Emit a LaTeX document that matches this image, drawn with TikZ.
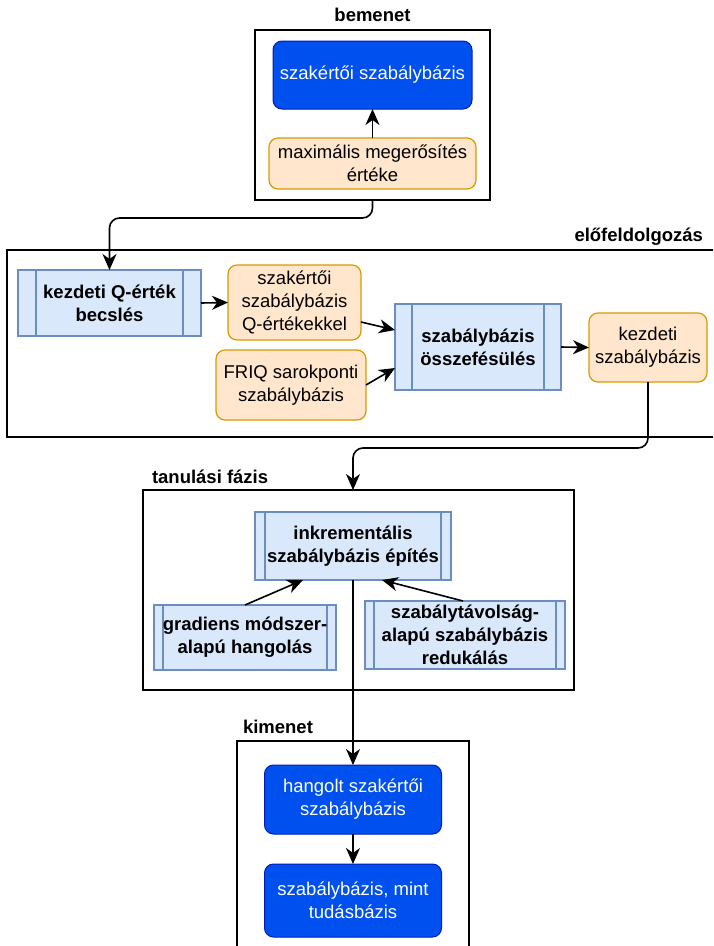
\documentclass[tikz,border=0pt]{standalone}
\usepackage{fontspec}
\setmainfont{Liberation Sans}
\usetikzlibrary{arrows.meta}
\definecolor{darkfill}{HTML}{0050EF}
\definecolor{darkline}{HTML}{001DBC}
\definecolor{softfill}{HTML}{FFE6CC}
\definecolor{softline}{HTML}{D79B00}
\definecolor{procfill}{HTML}{DAE8FC}
\definecolor{procline}{HTML}{6C8EBF}
\begin{document}
\begin{tikzpicture}[x=1pt,y=-1pt,
	every node/.style={font=\fontsize{18.5}{23}\selectfont,inner sep=0pt,outer sep=0pt,align=center},
	frame/.style={draw=black,line width=1.3pt},
	title/.style={font=\fontsize{18.5}{23}\selectfont\bfseries},
	dark/.style={draw=darkline,fill=darkfill,text=white,rounded corners=9pt,line width=1pt},
	soft/.style={draw=softline,fill=softfill,rounded corners=9pt,line width=1.2pt},
	proc/.style={draw=procline,fill=procfill,line width=1.2pt,font=\fontsize{18.5}{23}\selectfont\bfseries,
		path picture={\draw[procline,line width=1.2pt]
			([xshift=#1pt]path picture bounding box.north west) -- ([xshift=#1pt]path picture bounding box.south west)
			([xshift=-#1pt]path picture bounding box.north east) -- ([xshift=-#1pt]path picture bounding box.south east);}},
	arr/.style={-{Stealth[length=16pt,width=14pt,inset=5pt]},line width=1.6pt}]
	\useasboundingbox (0,0) rectangle (713,946);
	\clip (0,0) rectangle (713,946);
	% the frames
	\node[frame,minimum width=235pt,minimum height=170pt] (bem) at (372.5,115) {};
	\node[frame,minimum width=713pt,minimum height=187pt] (elo) at (363.5,343.5) {};
	\node[frame,minimum width=431pt,minimum height=200pt] (tan) at (358.5,590) {};
	\node[frame,minimum width=232pt,minimum height=219pt] (ki) at (353,850.5) {};
	%% the titles
	\node[title] (bemtitle) at (372.5,15) {bemenet};
	\node[title,anchor=east] (elotitle) at (703,237) {előfeldolgozás};
	\node[title,anchor=west] (tantitle) at (152,477) {tanulási fázis};
	\node[title,anchor=west] (kititle) at (243,727) {kimenet};
	%% bemenet
	\node[dark,minimum width=199pt,minimum height=68pt] (szab) at (372.5,75) {szakértői szabálybázis};
	\node[soft,minimum width=207pt,minimum height=51pt] (maxert) at (372.5,163.5) {maximális megerősítés\\értéke};
	%% előfeldolgozás
	\node[proc=18,minimum width=183pt,minimum height=66pt] (kq) at (109.5,303) {kezdeti Q-érték\\becslés};
	\node[soft,minimum width=133pt,minimum height=75pt] (qert) at (294.5,302.5) {szakértői\\szabálybázis\\Q-értékekkel};
	\node[soft,minimum width=150pt,minimum height=70pt] (friq) at (291,385) {FRIQ sarokponti\\szabálybázis};
	\node[proc=17,minimum width=166pt,minimum height=86pt] (ossz) at (478,347) {szabálybázis\\összefésülés};
	\node[soft,minimum width=118pt,minimum height=69pt] (kezd) at (648,347.5) {kezdeti\\szabálybázis};
	%% tanulási fázis
	\node[proc=10,minimum width=196pt,minimum height=68pt] (inkr) at (353,546) {inkrementális\\szabálybázis építés};
	\node[proc=9,minimum width=182pt,minimum height=65pt] (grad) at (245,637.5) {gradiens módszer-\\alapú hangolás};
	\node[proc=9,minimum width=200pt,minimum height=68pt] (red) at (465,635) {szabálytávolság-\\alapú szabálybázis\\redukálás};
	%% kimenet
	\node[dark,minimum width=177pt,minimum height=69pt] (hang) at (353,799.5) {hangolt szakértői\\szabálybázis};
	\node[dark,minimum width=177pt,minimum height=73pt] (tud) at (353,900.5) {szabálybázis, mint\\tudásbázis};
	%% the arrows
	\draw[arr] (maxert.north) -- (szab.south);
	\draw[arr,rounded corners=10pt] (bem.south) -- ++(0,18) -| (kq.north);
	\draw[arr] (kq.east) -- (qert.west);
	\draw[arr] ([yshift=-19.5pt]qert.east) -- ([yshift=17pt]ossz.west);
	\draw[arr] (friq.east) -- ([yshift=-21pt]ossz.west);
	\draw[arr] (ossz.east) -- (kezd.west);
	\draw[arr,rounded corners=10pt] (kezd.south) -- ++(0,66) -| (inkr.center |- tan.north);
	\draw[arr] (grad.north) -- ([xshift=-50pt]inkr.south);
	\draw[arr] ([xshift=-2pt]red.north) -- ([xshift=29pt]inkr.south);
	\draw[arr] (inkr.south) -- (hang.north);
	\draw[arr] (hang.south) -- (tud.north);
\end{tikzpicture}
\end{document}
